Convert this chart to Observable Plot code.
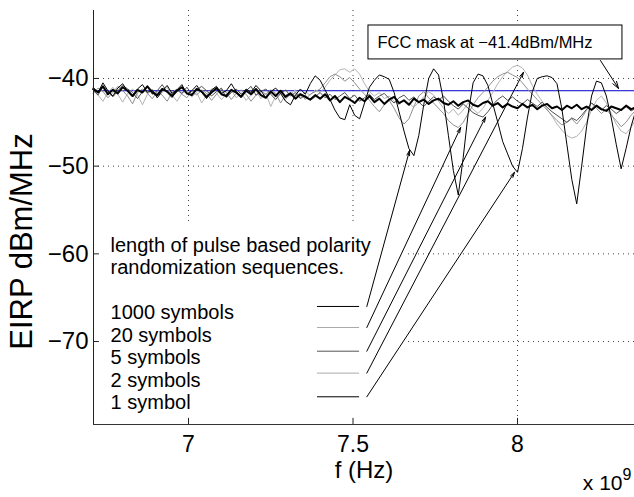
<!DOCTYPE html>
<html>
<head>
<meta charset="utf-8">
<script src="https://cdn.jsdelivr.net/npm/d3@7"></script>
<script src="https://cdn.jsdelivr.net/npm/@observablehq/plot@0.6"></script>
<style>
html,body{margin:0;padding:0;background:#fff;}
svg{display:block;}
</style>
</head>
<body>
<div id="chart"></div>
<script>
// frequency (GHz, axis shows x 10^9)
const freq = [
6.710,6.725,6.740,6.755,6.770,6.785,6.800,6.815,6.830,6.845,
6.860,6.875,6.890,6.905,6.920,6.935,6.950,6.965,6.980,6.995,
7.010,7.025,7.040,7.055,7.070,7.085,7.100,7.115,7.130,7.145,
7.160,7.175,7.190,7.205,7.220,7.235,7.250,7.265,7.280,7.295,
7.310,7.325,7.340,7.355,7.370,7.385,7.400,7.415,7.430,7.445,
7.460,7.475,7.490,7.505,7.520,7.535,7.550,7.565,7.580,7.595,
7.610,7.625,7.640,7.655,7.670,7.685,7.700,7.715,7.730,7.745,
7.760,7.775,7.790,7.805,7.820,7.835,7.850,7.865,7.880,7.895,
7.910,7.925,7.940,7.955,7.970,7.985,8.000,8.015,8.030,8.045,
8.060,8.075,8.090,8.105,8.120,8.135,8.150,8.165,8.180,8.195,
8.210,8.225,8.240,8.255,8.270,8.285,8.300,8.315,8.330,8.345,
8.360];

const sym1 = [
-41.0,-41.6,-40.5,-41.4,-42.0,-41.1,-40.6,-41.5,-42.1,-41.2,
-40.7,-41.6,-41.3,-42.2,-41.4,-40.8,-41.7,-41.3,-40.7,-41.8,
-41.4,-40.8,-41.6,-42.3,-41.3,-40.9,-41.7,-41.4,-40.6,-41.5,
-42.0,-41.2,-41.6,-40.8,-41.4,-42.2,-41.5,-41.1,-41.7,-42.6,
-43.0,-41.9,-41.2,-41.8,-40.6,-39.7,-40.2,-41.3,-42.4,-43.6,
-44.5,-44.7,-43.0,-44.2,-44.6,-42.8,-41.0,-40.2,-39.6,-39.8,
-40.1,-41.6,-43.8,-46.0,-48.0,-48.8,-46.5,-43.0,-40.0,-38.9,
-39.6,-42.5,-46.5,-50.5,-53.3,-49.0,-44.0,-40.5,-39.5,-39.7,
-40.8,-42.9,-45.0,-47.2,-48.6,-50.0,-50.7,-48.0,-44.5,-41.5,
-40.0,-39.8,-39.7,-39.9,-40.6,-43.5,-47.5,-51.5,-54.3,-50.0,
-45.5,-42.0,-40.3,-40.5,-42.0,-44.5,-47.5,-50.3,-48.0,-45.5,
-43.6];

const sym1000 = [
-41.2,-41.6,-40.9,-41.8,-41.3,-41.7,-41.0,-41.4,-42.0,-41.3,
-41.6,-40.9,-41.6,-41.9,-41.2,-41.5,-42.0,-41.4,-41.0,-41.7,
-41.9,-41.2,-41.5,-42.1,-41.6,-41.1,-41.8,-42.0,-41.3,-41.6,
-42.1,-41.4,-41.8,-41.2,-41.9,-42.2,-41.5,-42.0,-41.4,-42.1,
-41.7,-42.3,-41.8,-42.1,-42.4,-41.9,-42.3,-41.8,-42.5,-42.0,
-42.7,-42.1,-42.4,-42.8,-42.2,-42.6,-42.0,-42.7,-42.3,-42.9,
-42.4,-42.1,-42.8,-42.5,-43.0,-42.3,-42.7,-42.4,-42.9,-42.5,
-42.3,-42.8,-43.0,-42.6,-43.1,-42.7,-42.5,-43.0,-43.2,-42.8,
-42.6,-43.1,-42.8,-43.3,-42.9,-43.2,-43.4,-42.9,-43.3,-43.0,
-43.5,-43.1,-42.9,-43.4,-43.2,-43.6,-43.1,-43.4,-43.0,-43.5,
-43.2,-43.6,-43.1,-43.5,-43.7,-43.2,-43.4,-43.6,-43.1,-43.5,
-43.3];

const sym2 = [
-41.4,-41.9,-42.6,-41.6,-41.0,-41.8,-42.7,-41.7,-41.2,-41.9,
-43.0,-41.8,-41.3,-42.2,-41.6,-41.0,-41.9,-42.6,-41.7,-41.4,
-42.1,-41.6,-42.8,-41.9,-41.2,-41.7,-42.4,-41.8,-41.3,-42.2,
-41.6,-42.5,-41.9,-41.4,-42.3,-41.7,-43.2,-42.0,-41.5,-42.4,
-41.8,-41.3,-42.2,-41.5,-41.9,-41.3,-41.6,-41.0,-40.2,-39.6,
-39.0,-38.9,-39.3,-38.9,-39.5,-40.6,-41.5,-42.0,-41.6,-42.3,
-42.0,-42.6,-43.0,-42.4,-42.8,-43.3,-42.7,-42.1,-41.5,-41.9,
-42.6,-43.4,-44.0,-43.5,-44.2,-43.6,-42.8,-43.5,-44.0,-43.4,
-42.5,-41.6,-40.6,-39.8,-39.2,-38.7,-38.5,-38.8,-39.6,-40.8,
-41.8,-42.6,-43.5,-44.3,-45.2,-45.9,-46.5,-46.8,-46.6,-46.0,
-45.0,-43.6,-42.5,-42.0,-42.8,-44.0,-45.2,-46.0,-46.3,-45.6,
-44.6];

const sym20 = [
-41.7,-41.1,-41.5,-42.2,-41.6,-40.9,-41.4,-42.0,-42.9,-41.6,
-41.2,-41.7,-42.3,-41.5,-41.9,-42.6,-41.6,-41.2,-41.8,-42.2,
-41.4,-41.9,-41.3,-41.7,-42.5,-41.8,-41.2,-41.6,-42.4,-41.7,
-41.3,-41.8,-42.6,-41.9,-41.4,-41.8,-41.3,-41.7,-42.8,-41.9,
-41.6,-42.0,-41.7,-42.4,-41.8,-41.5,-41.2,-40.5,-39.8,-39.5,
-39.8,-40.3,-39.9,-40.5,-41.2,-41.8,-42.5,-43.2,-43.8,-43.0,
-42.5,-43.4,-44.5,-45.2,-44.6,-43.2,-42.0,-41.5,-42.2,-42.8,
-43.4,-44.0,-44.8,-45.3,-45.6,-45.0,-44.0,-43.0,-42.2,-41.6,
-41.0,-40.3,-39.8,-39.5,-39.3,-39.6,-39.9,-40.5,-41.2,-41.8,
-42.4,-43.0,-43.6,-44.2,-44.8,-45.3,-45.0,-44.6,-45.2,-44.5,
-43.6,-42.8,-43.4,-44.0,-43.5,-44.2,-44.8,-45.5,-45.0,-44.2,
-43.6];

const sym5 = [
-41.3,-41.9,-40.9,-41.5,-42.1,-41.4,-40.8,-41.2,-41.6,-42.3,
-41.5,-40.9,-41.8,-41.4,-40.7,-41.6,-42.2,-41.3,-41.7,-41.0,
-41.8,-41.3,-40.9,-41.4,-42.0,-41.5,-41.1,-42.2,-41.6,-41.2,
-41.8,-41.4,-40.9,-41.9,-41.5,-41.2,-41.8,-42.4,-41.7,-41.3,
-42.0,-41.6,-42.3,-41.9,-42.5,-42.1,-41.6,-42.2,-41.8,-42.4,
-42.0,-41.6,-42.3,-41.9,-42.6,-42.2,-41.8,-42.4,-42.0,-41.7,
-42.3,-42.8,-42.2,-41.9,-42.5,-42.1,-42.7,-43.2,-42.6,-42.1,
-42.5,-42.0,-42.6,-43.1,-43.5,-42.9,-43.4,-43.9,-44.2,-44.4,
-43.8,-43.0,-42.4,-42.0,-42.5,-42.1,-42.6,-42.9,-42.4,-42.8,
-43.2,-42.7,-43.3,-43.8,-44.2,-44.6,-45.0,-44.5,-44.8,-44.2,
-43.5,-42.8,-43.2,-43.6,-43.1,-43.5,-44.0,-43.6,-43.2,-43.7,
-43.4];

// axis ticks
const xTicks = [7, 7.5, 8];
const yTicks = [-40, -50, -60, -70];
const xDomain = [6.7112, 8.3556];
const yDomain = [-79.46, -32.25];

// FCC mask
const fccLevel = -41.4;
const fccText = "FCC mask at \u221241.4dBm/MHz";

// legend annotation
const legendHeader = ["length of pulse based polarity", "randomization sequences."];
const legendHeaderY = [-59.11, -61.62];
const legendLabels = ["1000 symbols", "20 symbols", "5 symbols", "2 symbols", "1 symbol"];
const legendColors = ["#000000", "#aaaaaa", "#555555", "#aaaaaa", "#000000"];
const legendLabelY = [-66.75, -69.37, -71.88, -74.50, -77.01];
const legendLineY = [-66.0, -68.4, -71.1, -73.6, -76.3];
const arrowTargetX = [7.672, 7.827, 7.903, 8.018, 7.991];
const arrowTargetY = [-48.2, -45.6, -44.4, -39.3, -50.7];

const seriesDefs = [
  {name: "2 symbols", values: sym2, color: "#b4b4b4", width: 1},
  {name: "20 symbols", values: sym20, color: "#909090", width: 1},
  {name: "5 symbols", values: sym5, color: "#505050", width: 1},
  {name: "1 symbol", values: sym1, color: "#000000", width: 1},
  {name: "1000 symbols", values: sym1000, color: "#000000", width: 2}
];

const legendRows = legendLabels.map((label, i) => ({
  label, color: legendColors[i], ty: legendLabelY[i], ly: legendLineY[i],
  tx: arrowTargetX[i], tyArrow: arrowTargetY[i]
}));

const font = "'Liberation Sans', Arial, Helvetica, sans-serif";

const lineMarks = seriesDefs.map(s =>
  Plot.line(freq.map((f, i) => ({f, v: s.values[i]})), {
    x: "f", y: "v", stroke: s.color, strokeWidth: s.width, strokeLinejoin: "round"
  })
);

const chart = Plot.plot({
  width: 634,
  height: 497,
  marginLeft: 93,
  marginRight: 0,
  marginTop: 10,
  marginBottom: 73,
  style: {fontFamily: font, background: "#fff", color: "#000"},
  x: {domain: xDomain, label: null},
  y: {domain: yDomain, label: null},
  marks: [
    Plot.gridX(xTicks, {stroke: "#000", strokeOpacity: 0.75, strokeDasharray: "1,4"}),
    Plot.gridY(yTicks, {stroke: "#000", strokeOpacity: 0.75, strokeDasharray: "1,4"}),
    // white background of legend annotation
    Plot.rect([0], {x1: xDomain[0], x2: 7.663, y1: yDomain[0], y2: -56.42, fill: "#fff"}),
    Plot.ruleY([fccLevel], {stroke: "#0000d0", strokeWidth: 1}),
    ...lineMarks,
    // legend text
    Plot.text(legendHeader, {x: 6.763, y: (d, i) => legendHeaderY[i], text: d => d,
      textAnchor: "start", lineAnchor: "middle", fontSize: 20, fill: "#000"}),
    Plot.text(legendRows, {x: 6.763, y: "ty", text: "label", textAnchor: "start", lineAnchor: "middle", fontSize: 20, fill: "#000"}),
    Plot.ruleY(legendRows, {y: "ly", x1: 7.392, x2: 7.520, stroke: "color", strokeWidth: 1}),
    Plot.arrow(legendRows, {x1: 7.542, y1: "ly", x2: "tx", y2: "tyArrow",
      stroke: "#000", strokeWidth: 1, headLength: 8, headAngle: 30}),
    // FCC box
    Plot.rect([0], {x1: 7.547, x2: 8.319, y1: -37.83, y2: -33.96, fill: "#fff", stroke: "#000", strokeWidth: 1}),
    Plot.text([fccText], {x: 7.5745, y: -35.95, text: d => d, textAnchor: "start", lineAnchor: "middle", fontSize: 16.5, fill: "#000"}),
    Plot.arrow([0], {x1: 8.252, y1: -37.95, x2: 8.307, y2: -41.14, stroke: "#000", strokeWidth: 1, headLength: 11, headAngle: 35}),
    // axes lines
    Plot.ruleX([xDomain[0]], {stroke: "#222"}),
    Plot.ruleY([yDomain[0]], {stroke: "#333"}),
    // inward ticks
    Plot.ruleX(xTicks, {y1: yDomain[0], y2: yDomain[0] + 0.7, stroke: "#222"}),
    Plot.ruleY(yTicks, {x1: xDomain[0], x2: xDomain[0] + 0.018, stroke: "#222"}),
    Plot.axisX(xTicks, {tickSize: 0, tickPadding: 11, fontSize: 23, tickFormat: d => String(d)}),
    Plot.axisY(yTicks, {tickSize: 0, tickPadding: 5, fontSize: 24, tickFormat: d => "\u2212" + Math.abs(d)}),
    // axis titles
    Plot.text(["f (Hz)"], {frameAnchor: "bottom", dy: 46, text: d => d, textAnchor: "middle", lineAnchor: "middle", fontSize: 24, fill: "#000"}),
    Plot.text(["x 10"], {frameAnchor: "bottom-right", dx: -12, dy: 59, text: d => d, textAnchor: "end", lineAnchor: "middle", fontSize: 21, fill: "#000"}),
    Plot.text(["9"], {frameAnchor: "bottom-right", dx: -3, dy: 50, text: d => d, textAnchor: "end", lineAnchor: "middle", fontSize: 16, fill: "#000"}),
    Plot.text(["EIRP dBm/MHz"], {frameAnchor: "left", dx: -71, dy: 24, rotate: -90, text: d => d, textAnchor: "middle", lineAnchor: "middle", fontSize: 31, fill: "#000"})
  ]
});

document.getElementById("chart").appendChild(chart);
</script>
</body>
</html>
